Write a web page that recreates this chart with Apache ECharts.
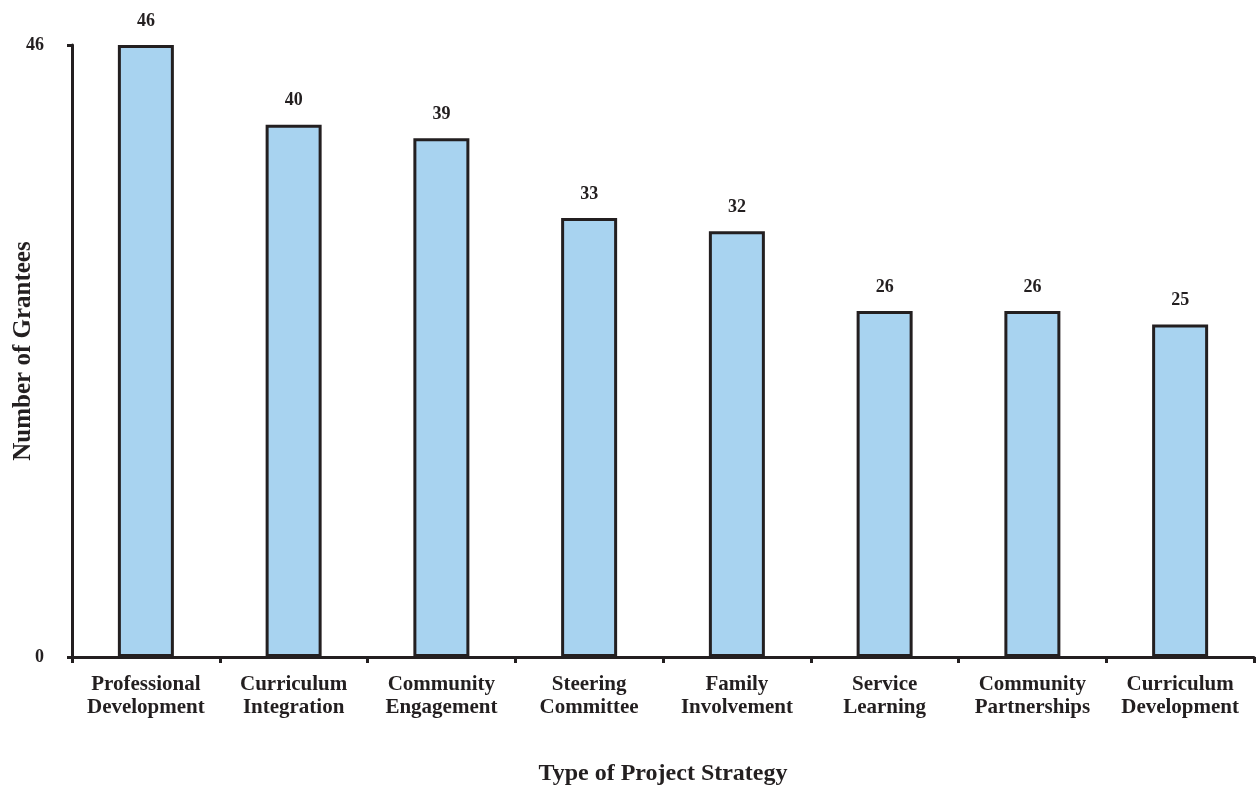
<!DOCTYPE html>
<html>
<head>
<meta charset="utf-8">
<script src="https://cdn.jsdelivr.net/npm/echarts@6/dist/echarts.min.js"></script>
<style>
  html, body { margin: 0; padding: 0; background: #ffffff; }
  #chart { width: 1256px; height: 787px; }
</style>
</head>
<body>
<div id="chart"></div>
<script>
// Project strategies and how many grantees used each
const categories = [
  'Professional\nDevelopment',
  'Curriculum\nIntegration',
  'Community\nEngagement',
  'Steering\nCommittee',
  'Family\nInvolvement',
  'Service\nLearning',
  'Community\nPartnerships',
  'Curriculum\nDevelopment'
];
const grantees = [46, 40, 39, 33, 32, 26, 26, 25];
const yTicks = [0, 46];

const ink = '#231f20';
const serif = '"Liberation Serif", "Times New Roman", serif';

const chart = echarts.init(document.getElementById('chart'), null, { renderer: 'canvas' });
chart.setOption({
  animation: false,
  backgroundColor: '#ffffff',
  grid: { left: 72, right: 2, top: 45, bottom: 130, containLabel: false, outerBoundsMode: 'none' },
  xAxis: {
    type: 'category',
    data: categories,
    name: 'Type of Project Strategy',
    nameLocation: 'middle',
    nameGap: 105,
    nameMoveOverlap: false,
    nameTextStyle: { fontFamily: serif, fontWeight: 'bold', fontSize: 24, color: ink },
    axisLine: { show: true, lineStyle: { color: ink, width: 3 } },
    axisTick: { show: true, alignWithLabel: false, length: 6, lineStyle: { color: ink, width: 3 } },
    axisLabel: {
      interval: 0,
      margin: 16,
      fontFamily: serif, fontWeight: 'bold', fontSize: 21, lineHeight: 23, color: ink
    }
  },
  yAxis: {
    type: 'value',
    min: yTicks[0],
    max: yTicks[1],
    interval: yTicks[1] - yTicks[0],
    name: 'Number of Grantees',
    nameLocation: 'middle',
    nameGap: 36,
    nameRotate: 90,
    nameMoveOverlap: false,
    nameTextStyle: { fontFamily: serif, fontWeight: 'bold', fontSize: 25, color: ink },
    splitLine: { show: false },
    axisLine: { show: true, lineStyle: { color: ink, width: 3 } },
    axisTick: { show: true, length: 5, lineStyle: { color: ink, width: 3 } },
    axisLabel: {
      margin: 28,
      fontFamily: serif, fontWeight: 'bold', fontSize: 18, color: ink,
      formatter: v => String(v)
    }
  },
  series: [{
    type: 'bar',
    data: grantees,
    barWidth: 56,
    itemStyle: { color: '#a8d3f0', borderColor: ink, borderWidth: 3 },
    label: {
      show: true,
      position: 'top',
      distance: 15,
      fontFamily: serif, fontWeight: 'bold', fontSize: 18, color: ink
    }
  }]
});
</script>
</body>
</html>
